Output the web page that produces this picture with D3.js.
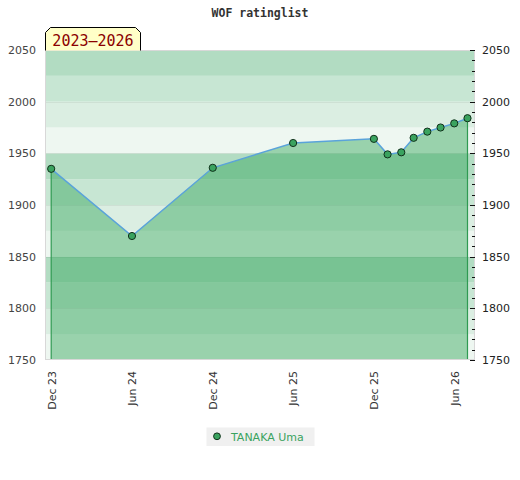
<!DOCTYPE html>
<html>
<head>
<meta charset="utf-8">
<script src="https://cdn.jsdelivr.net/npm/d3@7"></script>
<style>
  body { margin: 0; background: #fff; }
  svg { display: block; }
</style>
</head>
<body>
<svg id="chart"></svg>
<script>
// chart values
const chartTitle = "WOF ratinglist";
const periodLabel = "2023–2026";
const playerName = "TANAKA Uma";
const ratingDates = ["2023-12-01", "2024-06-01", "2024-12-01", "2025-06-01", "2025-12-01", "2026-01-01",
  "2026-02-01", "2026-03-01", "2026-04-01", "2026-05-01", "2026-06-01", "2026-07-01"];
const ratings = [1935, 1870, 1936, 1960, 1964, 1949, 1951, 1965, 1971, 1975, 1979, 1984];
const xTickDates = ["2023-12-01", "2024-06-01", "2024-12-01", "2025-06-01", "2025-12-01", "2026-06-01"];
const xTickLabels = ["Dec 23", "Jun 24", "Dec 24", "Jun 25", "Dec 25", "Jun 26"];
const yTicks = [1750, 1800, 1850, 1900, 1950, 2000, 2050];

const width = 520, height = 480;
const margin = {top: 50, right: 45, bottom: 120, left: 45};
const bandColors = ["#eef7f1", "#dbeee2", "#c7e6d3", "#b2dcc2"];

const parse = d3.timeParse("%Y-%m-%d");
const points = ratingDates.map((d, i) => ({date: parse(d), value: ratings[i]}));

const svg = d3.select("#chart").attr("width", width).attr("height", height);

const x = d3.scaleTime()
  .domain([d3.timeDay.offset(points[0].date, -14), d3.timeDay.offset(points[points.length - 1].date, 17)])
  .range([margin.left, width - margin.right]);
const y = d3.scaleLinear()
  .domain([d3.min(yTicks), d3.max(yTicks)])
  .range([height - margin.bottom, margin.top]);

const [y0, y1] = y.domain();

// background bands every 25 points
const bandStarts = d3.range(y0, y1, 25);
svg.append("g").selectAll("rect")
  .data(bandStarts)
  .join("rect")
  .attr("x", margin.left)
  .attr("width", width - margin.right - margin.left)
  .attr("y", d => y(d + 25))
  .attr("height", d => y(d) - y(d + 25))
  .attr("fill", d => bandColors[((d - y0) / 25) % 4]);

// faint grid at labelled values
svg.append("g").selectAll("line")
  .data(yTicks.slice(1, -1))
  .join("line")
  .attr("x1", margin.left).attr("x2", width - margin.right)
  .attr("y1", d => Math.round(y(d)) + 0.5).attr("y2", d => Math.round(y(d)) + 0.5)
  .attr("stroke", "#000").attr("stroke-opacity", 0.06);

// area under the rating line
const area = d3.area()
  .x(d => x(d.date))
  .y0(y(y0))
  .y1(d => y(d.value));
svg.append("path")
  .datum(points)
  .attr("d", area)
  .attr("fill", "rgb(52,166,91)")
  .attr("fill-opacity", 0.46);

// green edges at both ends
const ends = [points[0], points[points.length - 1]];
svg.append("g").selectAll("line")
  .data(ends)
  .join("line")
  .attr("x1", d => x(d.date)).attr("x2", d => x(d.date))
  .attr("y1", d => y(d.value)).attr("y2", y(y0))
  .attr("stroke", "#2f9a52").attr("stroke-width", 1.2);

// plot frame
svg.append("rect")
  .attr("x", margin.left + 0.5).attr("y", y(y1) + 0.5)
  .attr("width", width - margin.right - margin.left - 1)
  .attr("height", y(y0) - y(y1) - 1)
  .attr("fill", "none").attr("stroke", "#d8d8d8");

const line = d3.line()
  .x(d => x(d.date))
  .y(d => y(d.value));
svg.append("path")
  .datum(points)
  .attr("d", line)
  .attr("fill", "none")
  .attr("stroke", "#5aa3da")
  .attr("stroke-width", 1.5);

svg.append("g").selectAll("circle")
  .data(points)
  .join("circle")
  .attr("cx", d => x(d.date))
  .attr("cy", d => y(d.value))
  .attr("r", 3.6)
  .attr("fill", "#3aa35f")
  .attr("stroke", "#10301a")
  .attr("stroke-width", 1);

// left axis: labels only
const leftAxis = svg.append("g")
  .attr("transform", `translate(${margin.left},0)`)
  .call(d3.axisLeft(y).tickValues(yTicks).tickFormat(d3.format("d")).tickSize(0).tickPadding(9));
leftAxis.select(".domain").remove();
leftAxis.selectAll("text")
  .attr("font-family", "DejaVu Sans").attr("font-size", 11).attr("fill", "#444");

// right axis: minor ticks every 10, labels every 50
const right = width - margin.right;
svg.append("g").selectAll("line")
  .data(d3.range(y0, y1 + 1, 10))
  .join("line")
  .attr("x1", d => d % 50 === 0 ? right - 5 : right - 3).attr("x2", right)
  .attr("y1", d => Math.round(y(d)) + 0.5).attr("y2", d => Math.round(y(d)) + 0.5)
  .attr("stroke", "#111");
const rightAxis = svg.append("g")
  .attr("transform", `translate(${right},0)`)
  .call(d3.axisRight(y).tickValues(yTicks).tickFormat(d3.format("d")).tickSize(0).tickPadding(7));
rightAxis.select(".domain").remove();
rightAxis.selectAll("text")
  .attr("font-family", "DejaVu Sans").attr("font-size", 11).attr("fill", "#222");

// bottom axis: rotated month labels
const xAxis = svg.append("g")
  .attr("transform", `translate(0,${y(y0)})`)
  .call(d3.axisBottom(x).tickValues(xTickDates.map(parse))
    .tickFormat((d, i) => xTickLabels[i]).tickSize(0));
xAxis.select(".domain").remove();
xAxis.selectAll("text")
  .attr("font-family", "DejaVu Sans").attr("font-size", 11).attr("fill", "#333")
  .attr("text-anchor", "end")
  .attr("transform", "rotate(-90)")
  .attr("x", -11).attr("y", 0).attr("dy", "0.35em");

// title
svg.append("text")
  .attr("x", width / 2).attr("y", 17)
  .attr("text-anchor", "middle")
  .attr("font-family", "DejaVu Sans Mono").attr("font-weight", "bold")
  .attr("font-size", 11.5).attr("fill", "#333")
  .text(chartTitle);

// period tag above plot
const tagL = margin.left + 0.5, tagR = 140.5, tagT = 27.5, tagB = y(y1) + 0.5, cut = 5;
svg.append("path")
  .attr("d", `M${tagL},${tagB}V${tagT + cut}L${tagL + cut},${tagT}H${tagR - cut}L${tagR},${tagT + cut}V${tagB}`)
  .attr("fill", "#ffffc8").attr("stroke", "#000");
svg.append("text")
  .attr("x", (tagL + tagR) / 2).attr("y", 45.5)
  .attr("text-anchor", "middle")
  .attr("font-family", "DejaVu Sans Mono").attr("font-size", 15)
  .attr("fill", "#8b0000")
  .text(periodLabel);

// legend
const legend = svg.append("g").attr("transform", "translate(206.5,427.5)");
legend.append("rect").attr("width", 108).attr("height", 18.5).attr("fill", "#f0f0f0");
legend.append("circle").attr("cx", 10.5).attr("cy", 8.8).attr("r", 3.4)
  .attr("fill", "#3aa35f").attr("stroke", "#10301a");
legend.append("text").attr("x", 24.5).attr("y", 13)
  .attr("font-family", "DejaVu Sans").attr("font-size", 11)
  .attr("fill", "#3aa35f")
  .text(playerName);
</script>
</body>
</html>
